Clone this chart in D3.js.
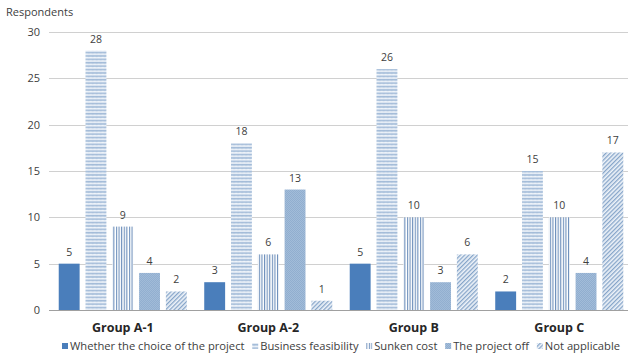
<!DOCTYPE html>
<html>
<head>
<meta charset="utf-8">
<script src="https://cdn.jsdelivr.net/npm/d3@7"></script>
<style>
  html, body { margin: 0; padding: 0; background: #fff; }
  svg { display: block; font-family: "Open Sans", "Noto Sans", sans-serif; }
</style>
</head>
<body>
<svg id="chart" width="629" height="364"></svg>
<script>
// Survey responses per group
const groups = ["Group A-1", "Group A-2", "Group B", "Group C"];
const seriesNames = ["Whether the choice of the project", "Business feasibility", "Sunken cost", "The project off", "Not applicable"];
const choiceOfProject = [5, 3, 5, 2];
const businessFeasibility = [28, 18, 26, 15];
const sunkenCost = [9, 6, 10, 10];
const projectOff = [4, 13, 3, 4];
const notApplicable = [2, 1, 6, 17];
const yTicks = [0, 5, 10, 15, 20, 25, 30];
const yTitle = "Respondents";

const seriesValues = [choiceOfProject, businessFeasibility, sunkenCost, projectOff, notApplicable];

const svg = d3.select("#chart");
const plot = { left: 50, right: 632, top: 32, bottom: 310 };

// Fill patterns for each series
const defs = svg.append("defs");
const fills = ["#4a7ebb", "url(#pWave)", "url(#pVert)", "url(#pCheck)", "url(#pDiag)"];

const wave = defs.append("pattern").attr("id", "pWave").attr("patternUnits", "userSpaceOnUse")
  .attr("width", 4).attr("height", 3.4);
wave.append("rect").attr("width", 4).attr("height", 3.4).attr("fill", "#f2f6fb");
wave.append("path").attr("d", "M0,2.2 L1,0.9 L2,2.2 L3,0.9 L4,2.2")
  .attr("fill", "none").attr("stroke", "#93b0d2").attr("stroke-width", 0.9);

const vert = defs.append("pattern").attr("id", "pVert").attr("patternUnits", "userSpaceOnUse")
  .attr("width", 2.6).attr("height", 4);
vert.append("rect").attr("width", 2.6).attr("height", 4).attr("fill", "#ffffff");
vert.append("rect").attr("x", 0).attr("width", 1.1).attr("height", 4).attr("fill", "#6d8fbb");

const check = defs.append("pattern").attr("id", "pCheck").attr("patternUnits", "userSpaceOnUse")
  .attr("width", 2).attr("height", 2);
check.append("rect").attr("width", 2).attr("height", 2).attr("fill", "#a9c2dd");
check.append("rect").attr("width", 1).attr("height", 1).attr("fill", "#8aa8cb");
check.append("rect").attr("x", 1).attr("y", 1).attr("width", 1).attr("height", 1).attr("fill", "#8aa8cb");

const diag = defs.append("pattern").attr("id", "pDiag").attr("patternUnits", "userSpaceOnUse")
  .attr("width", 3).attr("height", 3).attr("patternTransform", "rotate(-45)");
diag.append("rect").attr("width", 3).attr("height", 3).attr("fill", "#eef3f9");
diag.append("rect").attr("width", 3).attr("height", 1.3).attr("fill", "#86a5c9");

// Scales
const x0 = d3.scaleBand().domain(groups).range([plot.left, plot.right]).paddingInner(0.12).paddingOuter(0.06);
const x1 = d3.scaleBand().domain(seriesNames).range([0, x0.bandwidth()]).paddingInner(0.22);
const y = d3.scaleLinear().domain([0, 30]).range([plot.bottom, plot.top]);

// Gridlines
svg.append("g").selectAll("line").data(yTicks).join("line")
  .attr("x1", plot.left - 1).attr("x2", 628)
  .attr("y1", d => Math.round(y(d)) + 0.5).attr("y2", d => Math.round(y(d)) + 0.5)
  .attr("stroke", d => d === 0 ? "#a0a0a0" : "#d0d0d0").attr("stroke-width", 1);

// Y axis labels
const yAxis = svg.append("g").attr("transform", `translate(${plot.left - 10},0)`)
  .call(d3.axisLeft(y).tickValues(yTicks).tickSize(0).tickPadding(0));
yAxis.select(".domain").remove();
yAxis.selectAll("text").attr("font-size", 11).attr("fill", "#404040")
  .attr("font-family", "\"Open Sans\", \"Noto Sans\", sans-serif");

svg.append("text").attr("x", 6).attr("y", 16).attr("font-size", 11).attr("fill", "#404040").text(yTitle);

// Bars and value labels
const gGroups = svg.append("g").selectAll("g").data(groups).join("g")
  .attr("transform", d => `translate(${x0(d)},0)`);

gGroups.each(function(g, gi) {
  const sel = d3.select(this);
  const rows = seriesNames.map((s, si) => ({ s, si, v: seriesValues[si][gi] }));
  sel.selectAll("rect").data(rows).join("rect")
    .attr("x", d => x1(d.s)).attr("width", x1.bandwidth())
    .attr("y", d => y(d.v)).attr("height", d => y(0) - y(d.v))
    .attr("fill", d => fills[d.si]);
  sel.selectAll("text").data(rows).join("text")
    .attr("x", d => x1(d.s) + x1.bandwidth() / 2).attr("y", d => y(d.v) - 8)
    .attr("text-anchor", "middle").attr("font-size", 10.5).attr("fill", "#404040")
    .text(d => d.v);
});

// Group labels
svg.append("g").selectAll("text").data(groups).join("text")
  .attr("x", d => x0(d) + x0.bandwidth() / 2).attr("y", 332)
  .attr("text-anchor", "middle").attr("font-size", 12.5).attr("font-weight", "bold").attr("fill", "#262626")
  .text(d => d);

// Legend, spread across the span under the plot
const legendLeft = 62, legendRight = 620;
const legend = svg.append("g").attr("transform", "translate(0,350)");
const items = seriesNames.map((s, i) => {
  const item = legend.append("g");
  item.append("rect").attr("x", 0).attr("y", -7).attr("width", 6).attr("height", 6).attr("fill", fills[i]);
  const t = item.append("text").attr("x", 8).attr("y", 0).attr("font-size", 11.2).attr("fill", "#404040").text(s);
  return { item, w: 8 + t.node().getComputedTextLength() };
});
const totalW = d3.sum(items, d => d.w);
const gap = Math.max(4, (legendRight - legendLeft - totalW) / (items.length - 1));
let lx = legendLeft;
items.forEach(d => { d.item.attr("transform", `translate(${lx},0)`); lx += d.w + gap; });
</script>
</body>
</html>
